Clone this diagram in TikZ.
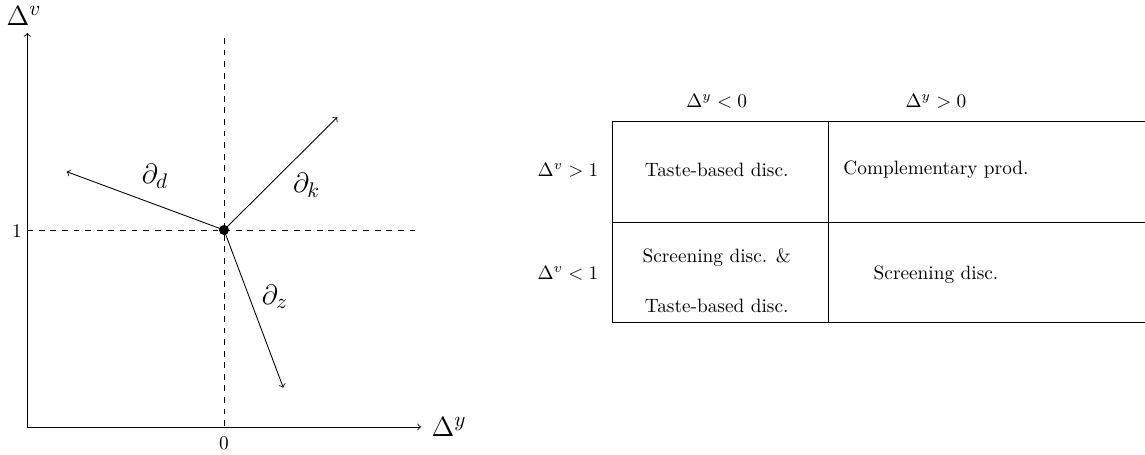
\documentclass[tikz,border=0pt]{standalone}
\usetikzlibrary{arrows}
\begin{document}
\begin{tikzpicture}[x=0.518pt,y=-0.518pt,
  axisline/.style={->,line width=0.45pt},
  guide/.style={dashed,line width=0.4pt},
  vec/.style={->,line width=0.45pt},
  biglabel/.style={font=\fontsize{15.5}{18}\selectfont,inner sep=0pt},
  cell/.style={inner sep=0pt,align=center},
  grid/.style={line width=0.45pt}]
\useasboundingbox (0,0) rectangle (1145,455);
% axes
\coordinate (O) at (27.3,427);
\coordinate (ytop) at (27.3,33);
\coordinate (xend) at (421,427);
\draw[axisline] (O) -- (ytop);
\draw[axisline] (O) -- (xend);
\node[biglabel] (lv) at (24,15.5) {$\Delta^v$};
\node[biglabel] (ly) at (449,426.5) {$\Delta^y$};
\node[inner sep=0pt] (one) at (17,231) {$1$};
\node[inner sep=0pt] (zero) at (224,443) {$0$};
% guides
\coordinate (vt) at (224,38);
\coordinate (vb) at (224,427);
\coordinate (hl) at (27.3,230);
\coordinate (hr) at (417,230);
\draw[guide] (vt) -- (vb);
\draw[guide] (hl) -- (hr);
% point and vectors
\node[circle,fill=black,inner sep=0pt,minimum size=5.2pt] (P) at (224,230) {};
\coordinate (dend) at (66.7,171.7);
\coordinate (kend) at (337.3,117.3);
\coordinate (zend) at (283.3,387.7);
\draw[vec] (P.center) -- (dend);
\draw[vec] (P.center) -- (kend);
\draw[vec] (P.center) -- (zend);
\node[biglabel] (ld) at (155,176) {$\partial_d$};
\node[biglabel] (lk) at (306.5,185) {$\partial_k$};
\node[biglabel] (lz) at (275,297) {$\partial_z$};
% table
\node[cell] (h1) at (716.7,101.7) {$\Delta^y<0$};
\node[cell] (h2) at (936,101.7) {$\Delta^y>0$};
\node[cell] (r1) at (568,170) {$\Delta^v>1$};
\node[cell] (r2) at (568,273) {$\Delta^v<1$};
\node[cell] (c11) at (716.7,170) {Taste-based disc.};
\node[cell] (c12) at (936,170) {Complementary prod.};
\node[cell] (c21) at (716.7,281) {Screening disc. \&\\[14pt]Taste-based disc.};
\node[cell] (c22) at (936,275) {Screening disc.};
\draw[grid] (612,121.7) -- (1145,121.7);
\draw[grid] (612,222.7) -- (1145,222.7);
\draw[grid] (612,322.7) -- (1145,322.7);
\draw[grid] (612,121.7) -- (612,322.7);
\draw[grid] (828,121.7) -- (828,322.7);
\end{tikzpicture}
\end{document}
